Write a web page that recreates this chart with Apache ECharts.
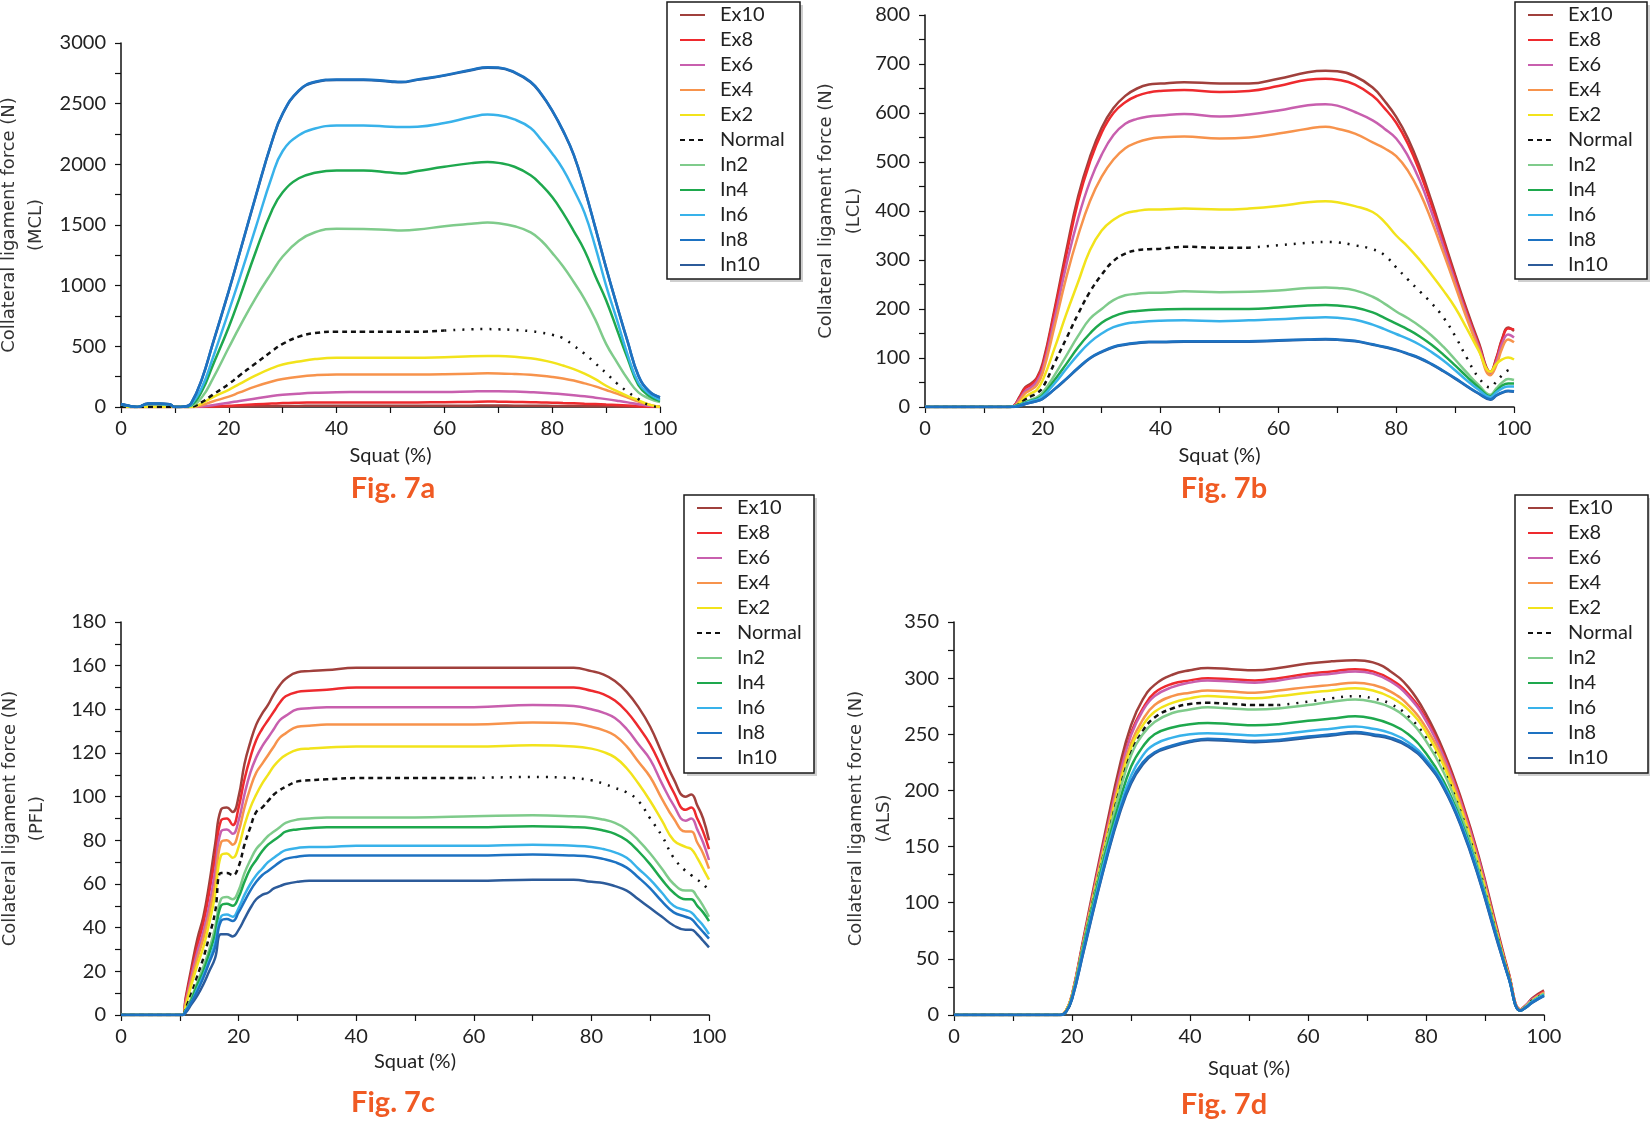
<!DOCTYPE html>
<html><head><meta charset="utf-8">
<script src="https://cdn.jsdelivr.net/npm/echarts@6/dist/echarts.min.js"></script>
<style>html,body{margin:0;padding:0;background:#fff;}#c{width:1650px;height:1121px;}</style>
</head><body><div id="c"></div>
<script>
// ---------- series names & colours ----------
const seriesNames = ['Ex10','Ex8','Ex6','Ex4','Ex2','Normal','In2','In4','In6','In8','In10'];
const seriesColors = ['#a0403c','#ee2a2e','#c85fae','#f7934c','#f2e31b','#111111','#7fcb8b','#1ea84d','#38b2ea','#1d72c2','#2c5b9a'];

// ---------- Fig. 7a  MCL ----------
const mclX = [0,2,3,5,7,9,10,12,13,15,17,20,22,25,28,30,33,36,40,45,50,52,55,60,65,68,70,73,76,78,80,82,84,86,88,90,92,94,96,98,100];
const mclEx10 = [0,0,0,0,0,0,0,0,0,0,1,3,4,6,7,8,9,10,10,10,10,10,10,10,11,12,12,11,11,10,9,8,8,7,6,6,5,4,2,1,0];
const mclEx8 = [0,0,0,0,0,0,0,0,0,2,5,10,15,22,28,32,35,37,38,38,38,38,38,39,42,45,44,42,40,38,36,33,30,27,24,20,16,12,7,3,0];
const mclEx6 = [0,0,0,0,0,0,0,0,0,5,15,35,50,70,90,100,110,117,122,123,123,123,123,124,128,130,130,127,122,118,112,105,97,88,77,65,52,38,22,10,0];
const mclEx4 = [0,0,0,0,0,0,0,0,0,15,45,85,120,170,210,230,250,262,268,268,268,268,268,270,275,278,277,272,265,258,248,235,218,195,170,140,110,78,45,18,0];
const mclEx2 = [0,0,0,0,0,0,0,0,0,30,80,142,190,260,320,350,375,395,405,405,405,405,406,410,418,420,420,415,402,388,368,342,312,275,230,175,130,90,55,20,0];
const mclNormal = [0,0,0,0,0,0,0,0,2,40,100,190,260,360,460,520,580,610,620,620,620,620,620,630,640,642,640,635,625,612,595,568,505,440,360,280,195,125,65,15,0];
const mclIn2 = [20,5,0,25,25,20,0,5,10,80,230,490,660,900,1110,1240,1370,1440,1470,1468,1458,1455,1462,1490,1510,1520,1515,1490,1440,1370,1270,1160,1030,890,720,520,370,230,120,70,40];
const mclIn4 = [20,5,0,25,25,20,0,5,15,130,340,660,900,1280,1620,1770,1885,1930,1950,1950,1932,1925,1945,1980,2010,2020,2012,1980,1910,1830,1730,1600,1450,1290,1080,880,640,400,180,90,50];
const mclIn6 = [20,5,0,25,25,20,0,5,20,160,400,790,1060,1480,1900,2110,2240,2295,2320,2320,2310,2308,2310,2340,2390,2410,2405,2370,2300,2200,2090,1960,1790,1600,1320,1000,720,430,200,110,60];
const mclIn8 = [25,5,0,28,28,22,0,5,30,230,520,960,1270,1740,2190,2420,2610,2680,2700,2700,2685,2680,2700,2735,2780,2800,2798,2760,2680,2580,2445,2280,2080,1800,1480,1150,840,540,260,130,80];
const mclIn10 = [25,5,0,28,28,22,0,5,30,228,516,955,1265,1735,2185,2416,2606,2676,2696,2696,2681,2676,2696,2731,2776,2796,2794,2756,2676,2576,2441,2276,2076,1796,1476,1146,836,536,256,128,78];

// ---------- Fig. 7b  LCL ----------
const lclX = [0,14,15,16,17,18,19,20,22,24,26,28,30,32,34,36,38,40,44,50,55,60,65,68,70,73,76,78,80,82,84,86,88,90,92,94,96,97,98,99,100];
const lclEx10 = [0,0,2,20,40,48,60,90,200,320,430,510,570,610,635,650,658,660,663,660,660,670,683,686,685,675,652,625,592,548,490,420,345,270,198,132,72,100,140,162,155];
const lclEx8 = [0,0,2,18,38,45,58,85,195,310,420,500,560,600,622,635,642,645,647,643,645,655,668,670,668,658,635,610,580,537,480,412,338,264,193,128,70,98,138,160,158];
const lclEx6 = [0,0,2,15,32,40,52,78,180,290,385,460,515,555,578,588,593,595,598,593,597,605,616,618,615,602,585,568,548,512,462,398,328,256,187,124,68,93,130,148,142];
const lclEx4 = [0,0,1,12,28,35,45,70,165,265,350,420,470,505,528,540,547,550,552,548,550,558,568,572,568,558,540,528,512,482,438,380,315,248,180,119,65,85,120,138,132];
const lclEx2 = [0,0,1,8,20,28,35,55,120,190,255,320,360,382,395,400,403,403,405,403,405,410,418,420,418,410,398,378,350,327,300,270,238,203,160,115,72,88,97,101,97];
const lclNormal = [0,0,1,6,15,22,28,40,90,140,190,235,270,298,313,320,322,323,327,325,325,330,335,337,336,330,322,310,285,260,236,212,183,145,100,60,40,52,65,75,78];
const lclIn2 = [0,0,1,5,10,15,20,30,65,105,145,180,200,218,228,231,233,233,236,234,235,238,243,244,243,238,225,211,195,181,165,146,123,97,70,45,25,38,50,57,55];
const lclIn4 = [0,0,1,4,9,13,17,25,55,88,122,150,172,185,193,196,198,199,200,200,200,203,207,208,207,203,193,182,170,158,144,127,107,85,62,40,22,33,44,48,48];
const lclIn6 = [0,0,1,3,8,12,15,22,48,78,107,132,150,163,170,173,175,176,177,175,177,179,182,183,182,178,168,159,149,139,127,112,95,75,54,35,20,30,38,42,42];
const lclIn8 = [0,0,0,2,6,9,12,17,37,58,80,100,113,123,128,131,133,133,134,134,134,136,138,139,138,135,128,123,117,109,100,88,74,59,43,28,16,24,30,33,32];
const lclIn10 = [0,0,0,2,6,9,12,17,36,57,79,99,112,122,127,130,132,132,133,133,133,135,137,138,137,134,127,122,116,108,99,87,73,58,42,27,15,23,29,32,31];

// ---------- Fig. 7c  PFL ----------
const pflX = [0,10,10.5,11,12,13,14,15,16,17,18,19,20,21,22,23,24,25,26,27,28,30,32,35,40,50,60,70,77,80,82,84,86,88,90,92,94,96,97,98,99,100];
const pflEx10 = [0,0,0,8,22,35,45,60,78,94,95,93,100,115,125,133,138,142,147,151,154,157,157.5,158,159,159,159,159,159,157.5,156,153,148,141,132,120,108,100,101,96,90,80];
const pflEx8 = [0,0,0,7,20,32,42,56,72,89,90,87,95,108,118,126,131,135,139,143,146,148,148.5,149,150,150,150,150,150,148.5,147,144,139,132,124,113,102,94,95,90,84,76];
const pflEx6 = [0,0,0,6,18,29,38,50,66,84,85,83,89,101,111,118,123,127,131,135,137,140,140.5,141,141,141,141,142,141.5,140,138.5,136,131,124,117,106,96,89,90,85,79,71];
const pflEx4 = [0,0,0,5,16,26,35,46,60,79,80,78,84,95,104,111,115,119,123,127,129,132,132.5,133,133,133,133,134,133.5,132,130.5,128,123,116,109,99,90,84,84,79,74,67];
const pflEx2 = [0,0,0,4,14,23,31,42,55,73,74,72,77,87,95,101,106,110,114,117,119,121.5,122,122.5,123,123,123,123.5,123,122,120.5,118,113,106,98,89,80,77,76,72,67,62];
const pflNormal = [0,0,0,3,10,18,26,36,47,65,65,64,68,78,86,93,95,98,101,103,104.5,107,107.5,108,108.5,108.5,108.5,109,108.5,107.5,106,104,102,98,90,82,72,66,64,62,60,57];
const pflIn2 = [0,0,0,2,8,15,22,30,40,53,54,53,57,65,71,76,79,82,84,86,88,89.5,90,90.5,90.5,90.5,91,91.5,91,90.5,89.5,88,85,80,74,67,60,57,57,54,50,45];
const pflIn4 = [0,0,0,2,7,14,20,28,37,50,51,50,54,61,67,71,75,78,80,82,84,85,85.5,86,86,86,86,86.5,86,85.5,84.5,83,80,75,69,62,56,53,53,50,47,43];
const pflIn6 = [0,0,0,2,6,12,18,25,33,45,46,45,49,55,60,64,67,70,72,74,75.5,76.5,77,77,77.5,77.5,77.5,78,77.5,77,76,74.5,72,67,62,56,50,48,47,44,41,37];
const pflIn8 = [0,0,0,1.5,6,11,17,24,31,43,44,43,47,52,57,61,64,66,68,70,71.5,72.5,73,73,73,73,73,73.5,73,72.5,71.5,70,67.5,63,58,52,47,45,44,41,38,35];
const pflIn10 = [0,0,0,1,5,9,14,20,26,37,37,36,39,44,49,53,55,56,58,59,60,61,61.5,61.5,61.5,61.5,61.5,62,62,61,60.5,59,57,53,49,45,41,39,39,37,34,31];

// ---------- Fig. 7d  ALS ----------
const alsX = [0,18,19,20,22,24,26,28,30,32,34,37,40,43,47,51,55,60,64,68,71,74,77,80,83,86,89,92,94,96,97,98,100];
const alsEx10 = [0,0,4,18,70,122,172,220,258,281,294,303,307,309,308,307,309,313,315,316,314,306,292,268,235,192,140,78,38,5,9,15,22];
const alsEx8 = [0,0,4,18,68,119,168,214,251,273,287,295,298,300,299,298,300,304,306,308,306,299,286,264,232,190,138,76,37,5,9,14,21];
const alsEx6 = [0,0,4,17,67,118,166,212,249,271,284,292,296,298,297,296,298,302,304,306,304,297,284,262,230,188,137,75,36,5,9,14,20];
const alsEx4 = [0,0,4,17,66,116,163,207,242,263,276,284,287,289,288,287,289,292,294,296,294,288,276,256,226,185,134,74,36,5,8,13,20];
const alsEx2 = [0,0,4,17,65,114,160,203,238,258,270,278,282,284,283,282,284,287,289,291,289,283,272,252,222,182,132,73,35,4,8,13,19];
const alsNormal = [0,0,3,16,64,112,157,199,233,253,265,273,277,278,277,276,276,279,282,284,282,277,266,247,218,179,130,72,35,4,8,13,19];
const alsIn2 = [0,0,3,16,64,111,156,197,231,250,261,269,272,274,273,272,273,276,279,281,279,274,263,244,216,177,128,71,34,4,8,12,19];
const alsIn4 = [0,0,3,15,62,108,151,189,221,239,250,256,259,260,259,258,259,262,264,266,264,259,250,233,208,172,125,70,34,4,7,12,18];
const alsIn6 = [0,0,3,15,60,105,147,183,213,231,241,247,250,251,250,249,250,253,255,257,255,251,243,228,205,170,124,69,33,4,7,12,18];
const alsIn8 = [0,0,3,14,58,102,143,180,208,225,234,240,244,246,245,244,245,248,250,252,250,247,240,226,203,168,122,68,33,4,7,11,17];
const alsIn10 = [0,0,3,14,57,101,142,178,206,223,233,239,243,245,244,243,244,247,249,251,249,246,239,225,202,167,121,67,33,4,7,11,17];

// ---------- axis ranges & texts ----------
const yMax = [3000, 800, 180, 350];
const yStep = [500, 100, 20, 50];
const yTitles = ['(MCL)', '(LCL)', '(PFL)', '(ALS)'];
const figLabels = ['Fig. 7a', 'Fig. 7b', 'Fig. 7c', 'Fig. 7d'];

// ---------- layout ----------
const grids = [
  {left:121, top:43, width:539, height:364},
  {left:925, top:15, width:589, height:392},
  {left:121, top:622, width:588, height:393},
  {left:954, top:622, width:590, height:393}
];
const legendBoxes = [
  {x:667, y:2, w:133, h:277},
  {x:1515, y:2, w:132, h:277},
  {x:684, y:495, w:130, h:278},
  {x:1515, y:495, w:133, h:278}
];
const yTitleX = [[9,36],[826,854],[10,37],[856,884]];
const xTitleY = [456, 456, 1062, 1069];
const figPos = [[393,489],[1224,489],[393,1103],[1224,1105]];
const normalSplit = [60, 55, 60, 55];

const chartData = [
  {x: mclX, v: [mclEx10,mclEx8,mclEx6,mclEx4,mclEx2,mclNormal,mclIn2,mclIn4,mclIn6,mclIn8,mclIn10]},
  {x: lclX, v: [lclEx10,lclEx8,lclEx6,lclEx4,lclEx2,lclNormal,lclIn2,lclIn4,lclIn6,lclIn8,lclIn10]},
  {x: pflX, v: [pflEx10,pflEx8,pflEx6,pflEx4,pflEx2,pflNormal,pflIn2,pflIn4,pflIn6,pflIn8,pflIn10]},
  {x: alsX, v: [alsEx10,alsEx8,alsEx6,alsEx4,alsEx2,alsNormal,alsIn2,alsIn4,alsIn6,alsIn8,alsIn10]}
];

const FONT = 'Lato, "Open Sans", sans-serif';
const series = [];
chartData.forEach((cd, g) => {
  seriesNames.forEach((name, k) => {
    const pts = cd.x.map((xv, i) => [xv, cd.v[k][i]]);
    const base = {
      type: 'line', name, xAxisIndex: g, yAxisIndex: g,
      symbol: 'none', showSymbol: false, smooth: 0.45,
      animation: false, color: seriesColors[k], z: name === 'In8' ? 4 : 3,
      lineStyle: {width: 2.5, color: seriesColors[k]}
    };
    if (name === 'Normal') {
      series.push(Object.assign({}, base, {data: pts.filter(p => p[0] <= normalSplit[g]),
        lineStyle: {width: 2.5, color: '#111', type: [5, 4]}}));
      series.push(Object.assign({}, base, {data: pts.filter(p => p[0] >= normalSplit[g]),
        lineStyle: {width: 2.5, color: '#111', type: [2, 7]}}));
    } else {
      series.push(Object.assign({}, base, {data: pts}));
    }
  });
});

const tickStyle = {color: '#111', width: 1.2};
const xAxes = grids.map((gr, g) => ({
  gridIndex: g, type: 'value', min: 0, max: 100, interval: 20,
  axisLine: {show: true, onZero: false, lineStyle: {color: '#111', width: 1.5}},
  axisTick: {show: true, length: 6, lineStyle: tickStyle},
  minorTick: {show: true, splitNumber: 2, length: 6, lineStyle: tickStyle},
  splitLine: {show: false}, minorSplitLine: {show: false},
  axisLabel: {fontFamily: FONT, fontSize: 20, color: '#222', margin: 12, formatter: v => String(v)}
}));
const yAxes = grids.map((gr, g) => ({
  gridIndex: g, type: 'value', min: 0, max: yMax[g], interval: yStep[g],
  axisLine: {show: true, onZero: false, lineStyle: {color: '#111', width: 1.5}},
  axisTick: {show: true, length: 6, lineStyle: tickStyle},
  minorTick: {show: true, splitNumber: 2, length: 6, lineStyle: tickStyle},
  splitLine: {show: false}, minorSplitLine: {show: false},
  axisLabel: {fontFamily: FONT, fontSize: 20, color: '#222', margin: 15, formatter: v => String(v)}
}));

const legends = legendBoxes.map(b => ({
  orient: 'vertical', left: b.x + 12, top: b.y + 3,
  itemWidth: 25, itemHeight: 20, itemGap: 5, padding: 0,
  selectedMode: false, data: seriesNames,
  itemStyle: {opacity: 0},
  textStyle: {fontFamily: FONT, fontSize: 20, color: '#222', padding: [0, 0, 0, 10]}
}));

const graphic = [];
legendBoxes.forEach(b => {
  graphic.push({type: 'rect', z: 0, shape: {x: b.x + 3, y: b.y + 3, width: b.w, height: b.h},
    style: {fill: '#cfcfcf', stroke: null}});
  graphic.push({type: 'rect', z: 1, shape: {x: b.x, y: b.y, width: b.w, height: b.h},
    style: {fill: '#fff', stroke: '#1a1a1a', lineWidth: 1.5}});
});
grids.forEach((gr, g) => {
  const cy = gr.top + gr.height / 2;
  const cx = gr.left + gr.width / 2;
  graphic.push({type: 'text', x: yTitleX[g][0], y: cy, rotation: Math.PI / 2,
    style: {text: 'Collateral ligament force (N)', fontFamily: '"DejaVu Sans", sans-serif', fontSize: 18,
      fill: '#333', textAlign: 'center', textVerticalAlign: 'middle'}});
  graphic.push({type: 'text', x: yTitleX[g][1], y: cy, rotation: Math.PI / 2,
    style: {text: yTitles[g], fontFamily: '"DejaVu Sans", sans-serif', fontSize: 18,
      fill: '#333', textAlign: 'center', textVerticalAlign: 'middle'}});
  graphic.push({type: 'text', x: cx, y: xTitleY[g],
    style: {text: 'Squat (%)', fontFamily: FONT, fontSize: 20, fill: '#222',
      textAlign: 'center', textVerticalAlign: 'middle'}});
  graphic.push({type: 'text', x: figPos[g][0], y: figPos[g][1],
    style: {text: figLabels[g], fontFamily: FONT, fontSize: 29, fontWeight: 'bold', fill: '#f05a23',
      textAlign: 'center', textVerticalAlign: 'middle'}});
});

const chart = echarts.init(document.getElementById('c'), null, {renderer: 'canvas'});
chart.setOption({
  backgroundColor: '#fff',
  animation: false,
  grid: grids.map(g => Object.assign({containLabel: false}, g)),
  xAxis: xAxes,
  yAxis: yAxes,
  legend: legends,
  graphic: graphic,
  series: series
});
</script>
</body></html>
